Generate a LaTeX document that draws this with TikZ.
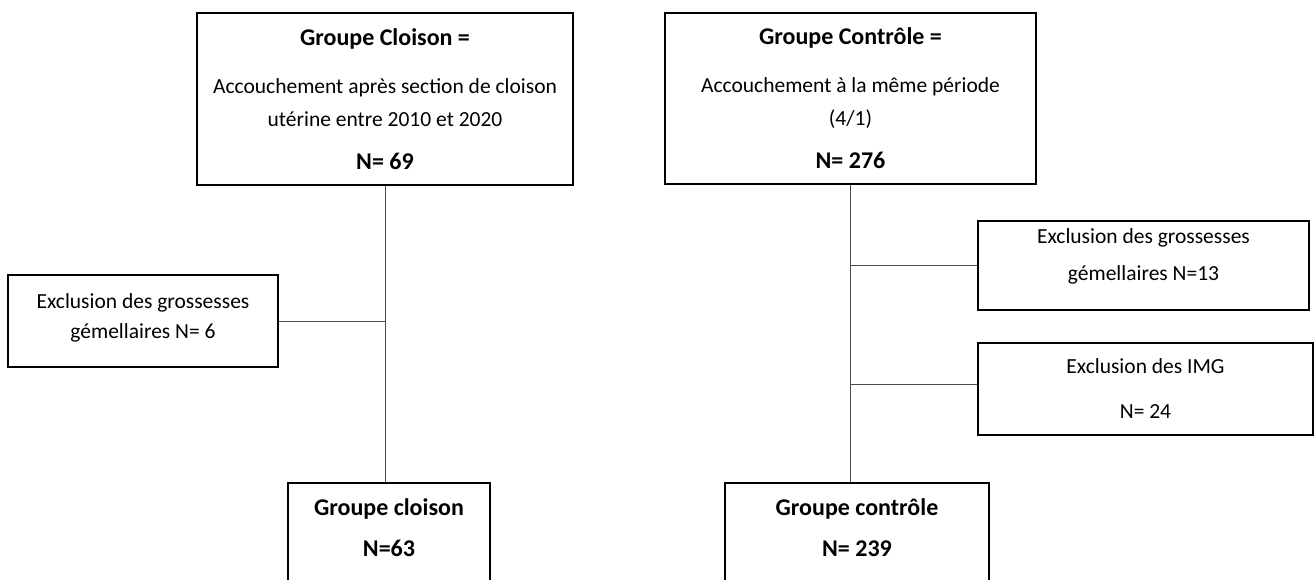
\documentclass[tikz,border=0pt]{standalone}
\usepackage{fontspec}
\setmainfont{Carlito}
\usepackage{tikz}
\usetikzlibrary{calc}

\newcommand{\gras}[1]{{\fontsize{24}{30}\selectfont\bfseries #1}}

\tikzset{
    boite/.style={draw=black, line width=1.5pt, align=center, inner sep=0pt,
        font=\fontsize{21.5}{30}\selectfont},
    lien/.style={draw=black!70, line width=1pt}
}

\begin{document}
\begin{tikzpicture}[x=1pt, y=-1pt]
    \useasboundingbox (0,0) rectangle (1315,580);
    % groupes de depart
    \node[boite, minimum width=376, minimum height=172] (cloison) at (385,99)
        {\gras{Groupe Cloison =}\\[18pt]Accouchement après section de cloison\\[3pt]utérine entre 2010 et 2020\\[13pt]\gras{N= 69}};
    \node[boite, minimum width=371, minimum height=171] (controle) at (850.5,98.5)
        {\gras{Groupe Contrôle =}\\[18pt]Accouchement à la même période\\[3pt](4/1)\\[13pt]\gras{N= 276}};
    % exclusions
    \node[boite, minimum width=270, minimum height=92, text depth=10.5pt] (exclu1) at (143,321)
        {Exclusion des grossesses\\gémellaires N= 6};
    \node[boite, minimum width=331, minimum height=89, text depth=21.5pt] (exclu2) at (1143.5,265.5)
        {Exclusion des grossesses\\[7pt]gémellaires N=13};
    \node[boite, minimum width=335, minimum height=92] (exclu3) at (1145.5,389)
        {Exclusion des IMG\\[15pt]N= 24};
    % groupes finaux
    \node[boite, minimum width=202, minimum height=117, text depth=27pt] (cloisonfin) at (389,541.5)
        {\gras{Groupe cloison}\\[11pt]\gras{N=63}};
    \node[boite, minimum width=264, minimum height=117, text depth=27pt] (controlefin) at (857,541.5)
        {\gras{Groupe contrôle}\\[11pt]\gras{N= 239}};
    % liens
    \draw[lien] (cloison.south) -- (cloison.south |- cloisonfin.north);
    \draw[lien] (exclu1.east) -- (exclu1.east -| cloison.south);
    \draw[lien] (controle.south) -- (controle.south |- controlefin.north);
    \draw[lien] (exclu2.west) -- (exclu2.west -| controle.south);
    \draw[lien] ([yshift=5pt]exclu3.west) -- ([yshift=5pt]exclu3.west -| controle.south);
\end{tikzpicture}
\end{document}
